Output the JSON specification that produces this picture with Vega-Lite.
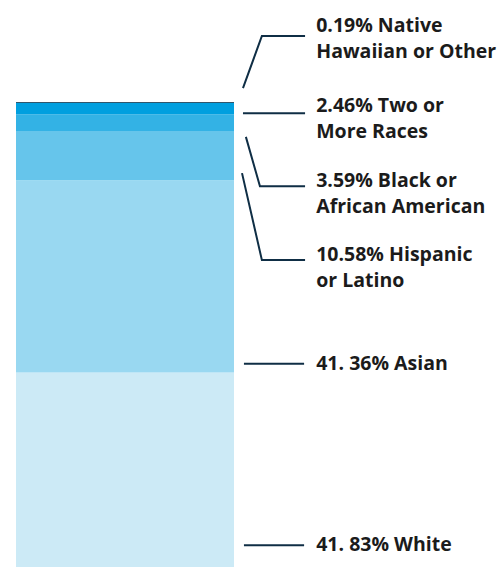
{
  "$schema": "https://vega.github.io/schema/vega-lite/v6.json",
  "width": 485,
  "height": 465,
  "autosize": "none",
  "padding": {"left": 16, "top": 102, "right": 0, "bottom": 0},
  "background": "white",
  "config": {"view": {"stroke": null}},
  "datasets": {
    "groups": [
      {"group": "White", "pct": 41.83, "rank": 1, "label": ["41. 83% White"], "lines": 1, "ly": 4.7},
      {"group": "Asian", "pct": 41.36, "rank": 2, "label": ["41. 36% Asian"], "lines": 1, "ly": 43.7},
      {"group": "Hispanic or Latino", "pct": 10.58, "rank": 3, "label": ["10.58% Hispanic", "or Latino"], "lines": 2, "ly": 65.7},
      {"group": "Black or African American", "pct": 3.59, "rank": 4, "label": ["3.59% Black or", "African American"], "lines": 2, "ly": 81.8},
      {"group": "Two or More Races", "pct": 2.46, "rank": 5, "label": ["2.46% Two or", "More Races"], "lines": 2, "ly": 97.9},
      {"group": "Native Hawaiian or Other", "pct": 0.19, "rank": 6, "label": ["0.19% Native", "Hawaiian or Other"], "lines": 2, "ly": 115.1}
    ],
    "leaders": [
      {"group": "Native Hawaiian or Other", "pt": 1, "lx": 46.8, "ly": 103.0},
      {"group": "Native Hawaiian or Other", "pt": 2, "lx": 50.7, "ly": 114.2},
      {"group": "Native Hawaiian or Other", "pt": 3, "lx": 59.6, "ly": 114.2},
      {"group": "Two or More Races", "pt": 1, "lx": 46.8, "ly": 97.6},
      {"group": "Two or More Races", "pt": 2, "lx": 59.6, "ly": 97.6},
      {"group": "Black or African American", "pt": 1, "lx": 47.4, "ly": 92.5},
      {"group": "Black or African American", "pt": 2, "lx": 50.3, "ly": 81.9},
      {"group": "Black or African American", "pt": 3, "lx": 59.6, "ly": 81.9},
      {"group": "Hispanic or Latino", "pt": 1, "lx": 46.6, "ly": 84.7},
      {"group": "Hispanic or Latino", "pt": 2, "lx": 50.7, "ly": 66.0},
      {"group": "Hispanic or Latino", "pt": 3, "lx": 59.6, "ly": 66.0},
      {"group": "Asian", "pt": 1, "lx": 47.0, "ly": 43.7},
      {"group": "Asian", "pt": 2, "lx": 59.4, "ly": 43.7},
      {"group": "White", "pt": 1, "lx": 47.0, "ly": 4.7},
      {"group": "White", "pt": 2, "lx": 59.4, "ly": 4.7}
    ]
  },
  "layer": [
    {
      "data": {"name": "groups"},
      "transform": [
        {"stack": "pct", "groupby": [], "sort": [{"field": "rank", "order": "ascending"}], "as": ["y0", "y1"]}
      ],
      "mark": {"type": "rect", "clip": false},
      "encoding": {
        "x": {"datum": 0, "type": "quantitative", "scale": {"domain": [0, 100], "nice": false}, "axis": null},
        "x2": {"datum": 44.95},
        "y": {"field": "y0", "type": "quantitative", "scale": {"domain": [0, 100], "nice": false, "zero": false}, "axis": null},
        "y2": {"field": "y1"},
        "color": {
          "field": "group",
          "type": "nominal",
          "legend": null,
          "scale": {
            "domain": ["White", "Asian", "Hispanic or Latino", "Black or African American", "Two or More Races", "Native Hawaiian or Other"],
            "range": ["#cceaf6", "#99d8f1", "#66c5eb", "#33b2e5", "#009fdf", "#00263e"]
          }
        }
      }
    },
    {
      "data": {"name": "leaders"},
      "mark": {"type": "line", "color": "#0f2e45", "strokeWidth": 2, "clip": false},
      "encoding": {
        "x": {"field": "lx", "type": "quantitative", "scale": {"domain": [0, 100], "nice": false}, "axis": null},
        "y": {"field": "ly", "type": "quantitative", "scale": {"domain": [0, 100], "nice": false, "zero": false}, "axis": null},
        "detail": {"field": "group"},
        "order": {"field": "pt", "type": "quantitative"}
      }
    },
    {
      "data": {"name": "groups"},
      "transform": [{"filter": "datum.lines == 2"}],
      "mark": {"type": "text", "align": "left", "baseline": "alphabetic", "font": "Open Sans", "fontWeight": 700, "fontSize": 19.5, "lineHeight": 26, "color": "#1b1b1b", "clip": false},
      "encoding": {
        "x": {"datum": 61.9, "type": "quantitative"},
        "y": {"field": "ly", "type": "quantitative"},
        "text": {"field": "label"}
      }
    },
    {
      "data": {"name": "groups"},
      "transform": [{"filter": "datum.lines == 1"}],
      "mark": {"type": "text", "align": "left", "baseline": "middle", "font": "Open Sans", "fontWeight": 700, "fontSize": 19.5, "color": "#1b1b1b", "clip": false},
      "encoding": {
        "x": {"datum": 61.9, "type": "quantitative"},
        "y": {"field": "ly", "type": "quantitative"},
        "text": {"field": "label"}
      }
    }
  ]
}
